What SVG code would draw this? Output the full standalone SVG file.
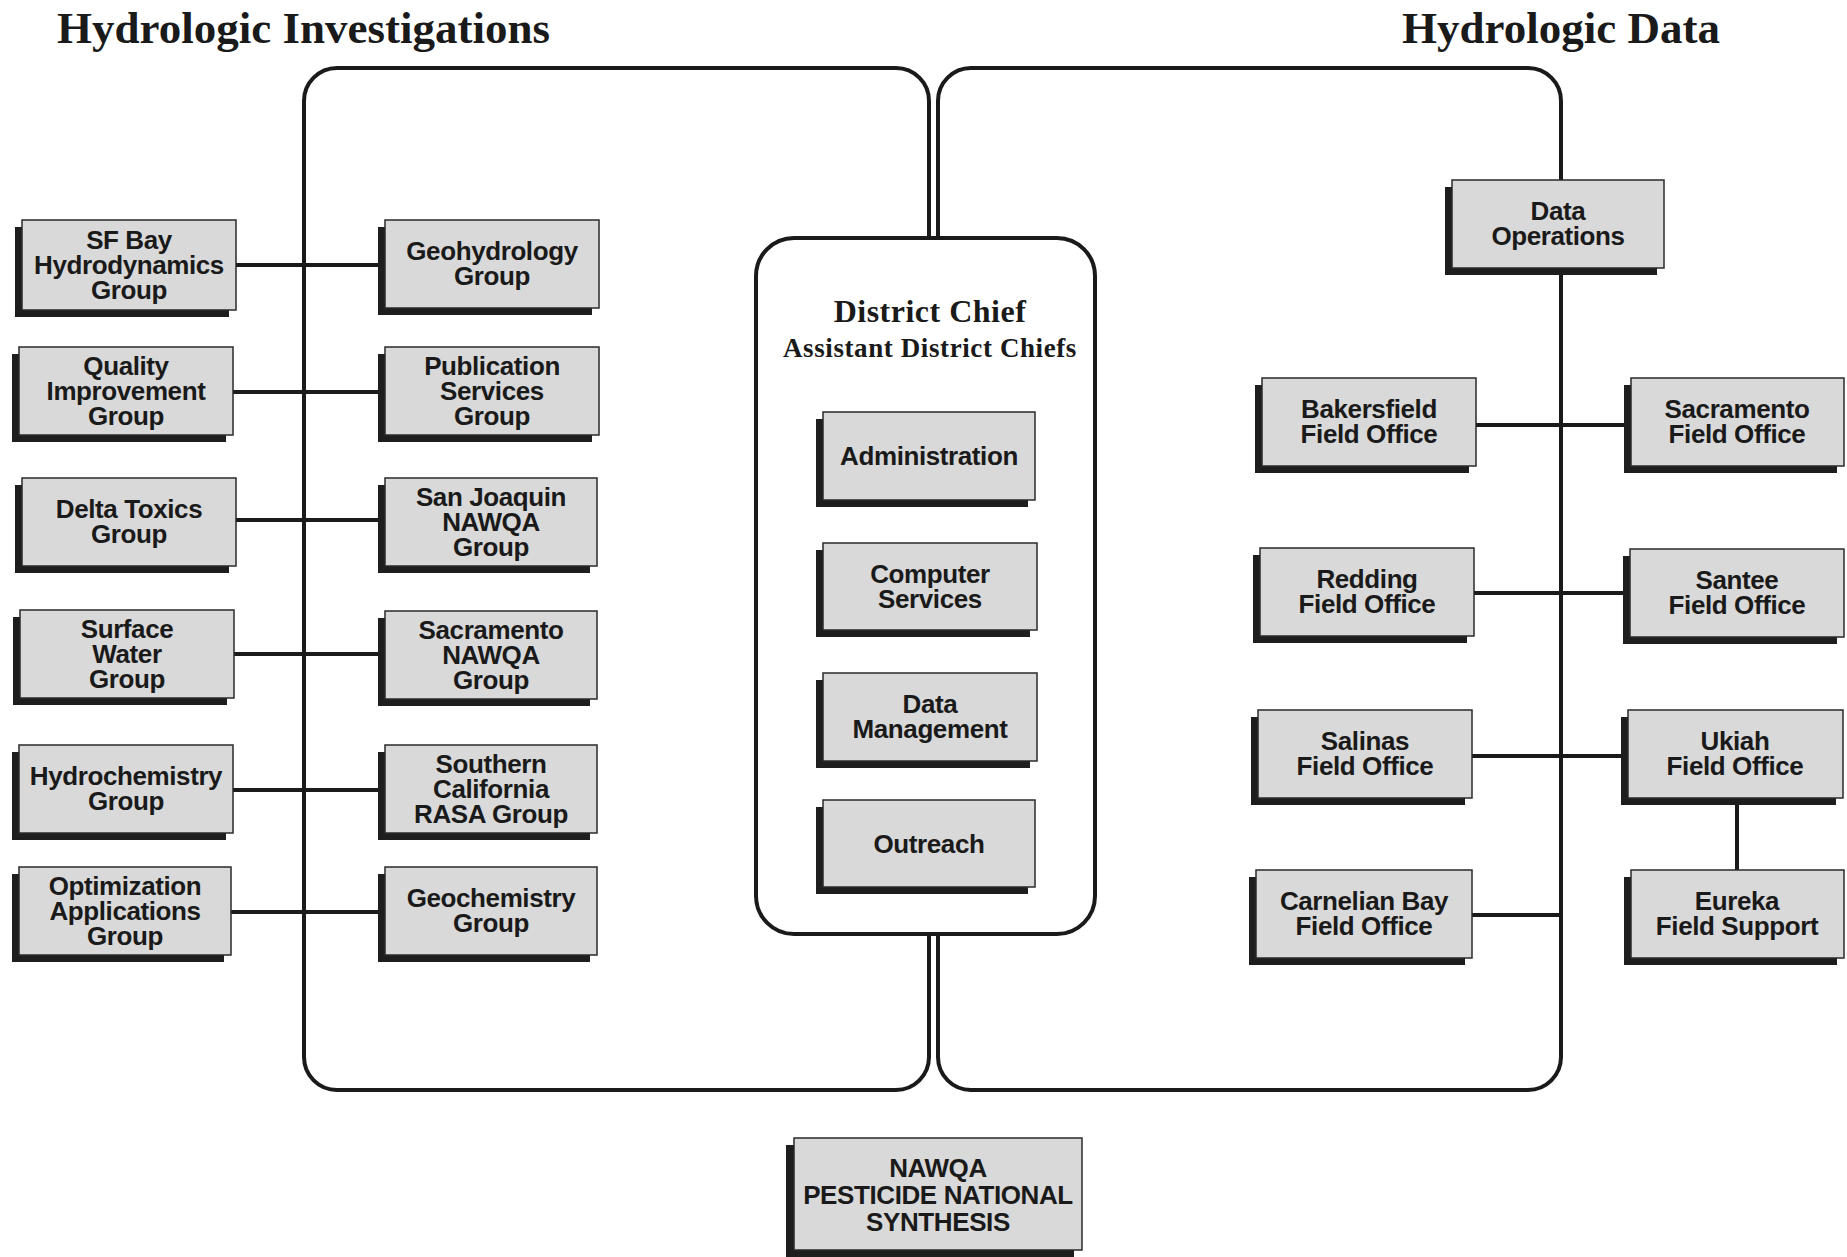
<svg xmlns="http://www.w3.org/2000/svg" width="1847" height="1257" viewBox="0 0 1847 1257">
<style>
.bg{fill:#ffffff}
.shadow{fill:#1e1e1e}
.box{fill:#d9d9d9;stroke:#2a2a2a;stroke-width:1.5}
.lbl{font-family:"Liberation Sans",Arial,sans-serif;font-weight:bold;font-size:26px;fill:#1a1a1a;text-anchor:middle;letter-spacing:-0.4px}
.conn{stroke:#1a1a1a;stroke-width:4;fill:none;stroke-linecap:butt}
.cont{stroke:#1a1a1a;stroke-width:4;fill:none}
.title{font-family:"Liberation Serif","Times New Roman",serif;font-weight:bold;font-size:45px;fill:#1a1a1a}
.chief{font-family:"Liberation Serif","Times New Roman",serif;font-weight:bold;fill:#1a1a1a;text-anchor:middle}
</style>
<rect class="bg" x="0" y="0" width="1847" height="1257"/>

<text class="title" x="57" y="43">Hydrologic Investigations</text>
<text class="title" x="1402" y="43">Hydrologic Data</text>

<g id="containers">
  <rect class="cont" x="304" y="68" width="625" height="1022" rx="33" ry="33"/>
  <rect class="cont" x="938" y="68" width="623" height="1022" rx="33" ry="33"/>
</g>

<g id="connectors">
  <line class="conn" x1="236" y1="265" x2="385" y2="265"/>
  <line class="conn" x1="233" y1="392" x2="385" y2="392"/>
  <line class="conn" x1="236" y1="520" x2="385" y2="520"/>
  <line class="conn" x1="234" y1="654" x2="385" y2="654"/>
  <line class="conn" x1="233" y1="790" x2="385" y2="790"/>
  <line class="conn" x1="231" y1="912" x2="385" y2="912"/>
  <line class="conn" x1="1476" y1="425" x2="1631" y2="425"/>
  <line class="conn" x1="1474" y1="593" x2="1630" y2="593"/>
  <line class="conn" x1="1472" y1="756" x2="1628" y2="756"/>
  <line class="conn" x1="1472" y1="915" x2="1561" y2="915"/>
  <line class="conn" x1="1737" y1="798" x2="1737" y2="870"/>
</g>

<g id="district-chief">
  <rect x="756" y="238" width="339" height="696" rx="38" ry="38" fill="#ffffff" stroke="#1a1a1a" stroke-width="4"/>
  <text class="chief" x="930" y="322" font-size="32" letter-spacing="0.5">District Chief</text>
  <text class="chief" x="930" y="357" font-size="27" letter-spacing="0.6">Assistant District Chiefs</text>
</g>

<g id="sf-bay">
  <rect class="shadow" x="15" y="227" width="214" height="90"/>
  <rect class="box" x="22" y="220" width="214" height="90"/>
  <text class="lbl" x="129" y="249">SF Bay</text>
  <text class="lbl" x="129" y="274">Hydrodynamics</text>
  <text class="lbl" x="129" y="299">Group</text>
</g>
<g id="quality">
  <rect class="shadow" x="12" y="354" width="214" height="88"/>
  <rect class="box" x="19" y="347" width="214" height="88"/>
  <text class="lbl" x="126" y="375">Quality</text>
  <text class="lbl" x="126" y="400">Improvement</text>
  <text class="lbl" x="126" y="425">Group</text>
</g>
<g id="delta-toxics">
  <rect class="shadow" x="15" y="485" width="214" height="88"/>
  <rect class="box" x="22" y="478" width="214" height="88"/>
  <text class="lbl" x="129" y="518">Delta Toxics</text>
  <text class="lbl" x="129" y="543">Group</text>
</g>
<g id="surface-water">
  <rect class="shadow" x="13" y="617" width="214" height="88"/>
  <rect class="box" x="20" y="610" width="214" height="88"/>
  <text class="lbl" x="127" y="638">Surface</text>
  <text class="lbl" x="127" y="663">Water</text>
  <text class="lbl" x="127" y="688">Group</text>
</g>
<g id="hydrochemistry">
  <rect class="shadow" x="12" y="752" width="214" height="88"/>
  <rect class="box" x="19" y="745" width="214" height="88"/>
  <text class="lbl" x="126" y="785">Hydrochemistry</text>
  <text class="lbl" x="126" y="810">Group</text>
</g>
<g id="optimization">
  <rect class="shadow" x="12" y="874" width="212" height="88"/>
  <rect class="box" x="19" y="867" width="212" height="88"/>
  <text class="lbl" x="125" y="895">Optimization</text>
  <text class="lbl" x="125" y="920">Applications</text>
  <text class="lbl" x="125" y="945">Group</text>
</g>

<g id="geohydrology">
  <rect class="shadow" x="378" y="227" width="214" height="88"/>
  <rect class="box" x="385" y="220" width="214" height="88"/>
  <text class="lbl" x="492" y="260">Geohydrology</text>
  <text class="lbl" x="492" y="285">Group</text>
</g>
<g id="publication">
  <rect class="shadow" x="378" y="354" width="214" height="88"/>
  <rect class="box" x="385" y="347" width="214" height="88"/>
  <text class="lbl" x="492" y="375">Publication</text>
  <text class="lbl" x="492" y="400">Services</text>
  <text class="lbl" x="492" y="425">Group</text>
</g>
<g id="san-joaquin">
  <rect class="shadow" x="378" y="485" width="212" height="88"/>
  <rect class="box" x="385" y="478" width="212" height="88"/>
  <text class="lbl" x="491" y="506">San Joaquin</text>
  <text class="lbl" x="491" y="531">NAWQA</text>
  <text class="lbl" x="491" y="556">Group</text>
</g>
<g id="sacramento-nawqa">
  <rect class="shadow" x="378" y="618" width="212" height="88"/>
  <rect class="box" x="385" y="611" width="212" height="88"/>
  <text class="lbl" x="491" y="639">Sacramento</text>
  <text class="lbl" x="491" y="664">NAWQA</text>
  <text class="lbl" x="491" y="689">Group</text>
</g>
<g id="southern-california">
  <rect class="shadow" x="378" y="752" width="212" height="88"/>
  <rect class="box" x="385" y="745" width="212" height="88"/>
  <text class="lbl" x="491" y="773">Southern</text>
  <text class="lbl" x="491" y="798">California</text>
  <text class="lbl" x="491" y="823">RASA Group</text>
</g>
<g id="geochemistry">
  <rect class="shadow" x="378" y="874" width="212" height="88"/>
  <rect class="box" x="385" y="867" width="212" height="88"/>
  <text class="lbl" x="491" y="907">Geochemistry</text>
  <text class="lbl" x="491" y="932">Group</text>
</g>

<g id="administration">
  <rect class="shadow" x="816" y="419" width="212" height="88"/>
  <rect class="box" x="823" y="412" width="212" height="88"/>
  <text class="lbl" x="929" y="465">Administration</text>
</g>
<g id="computer-services">
  <rect class="shadow" x="816" y="550" width="214" height="87"/>
  <rect class="box" x="823" y="543" width="214" height="87"/>
  <text class="lbl" x="930" y="583">Computer</text>
  <text class="lbl" x="930" y="608">Services</text>
</g>
<g id="data-management">
  <rect class="shadow" x="816" y="680" width="214" height="88"/>
  <rect class="box" x="823" y="673" width="214" height="88"/>
  <text class="lbl" x="930" y="713">Data</text>
  <text class="lbl" x="930" y="738">Management</text>
</g>
<g id="outreach">
  <rect class="shadow" x="816" y="807" width="212" height="87"/>
  <rect class="box" x="823" y="800" width="212" height="87"/>
  <text class="lbl" x="929" y="853">Outreach</text>
</g>

<g id="data-operations">
  <rect class="shadow" x="1445" y="187" width="212" height="88"/>
  <rect class="box" x="1452" y="180" width="212" height="88"/>
  <text class="lbl" x="1558" y="220">Data</text>
  <text class="lbl" x="1558" y="245">Operations</text>
</g>
<g id="bakersfield">
  <rect class="shadow" x="1255" y="385" width="214" height="88"/>
  <rect class="box" x="1262" y="378" width="214" height="88"/>
  <text class="lbl" x="1369" y="418">Bakersfield</text>
  <text class="lbl" x="1369" y="443">Field Office</text>
</g>
<g id="sacramento-field">
  <rect class="shadow" x="1624" y="385" width="213" height="88"/>
  <rect class="box" x="1631" y="378" width="213" height="88"/>
  <text class="lbl" x="1737" y="418">Sacramento</text>
  <text class="lbl" x="1737" y="443">Field Office</text>
</g>
<g id="redding">
  <rect class="shadow" x="1253" y="555" width="214" height="88"/>
  <rect class="box" x="1260" y="548" width="214" height="88"/>
  <text class="lbl" x="1367" y="588">Redding</text>
  <text class="lbl" x="1367" y="613">Field Office</text>
</g>
<g id="santee">
  <rect class="shadow" x="1623" y="556" width="214" height="88"/>
  <rect class="box" x="1630" y="549" width="214" height="88"/>
  <text class="lbl" x="1737" y="589">Santee</text>
  <text class="lbl" x="1737" y="614">Field Office</text>
</g>
<g id="salinas">
  <rect class="shadow" x="1251" y="717" width="214" height="88"/>
  <rect class="box" x="1258" y="710" width="214" height="88"/>
  <text class="lbl" x="1365" y="750">Salinas</text>
  <text class="lbl" x="1365" y="775">Field Office</text>
</g>
<g id="ukiah">
  <rect class="shadow" x="1621" y="717" width="215" height="88"/>
  <rect class="box" x="1628" y="710" width="215" height="88"/>
  <text class="lbl" x="1735" y="750">Ukiah</text>
  <text class="lbl" x="1735" y="775">Field Office</text>
</g>
<g id="carnelian-bay">
  <rect class="shadow" x="1249" y="877" width="216" height="88"/>
  <rect class="box" x="1256" y="870" width="216" height="88"/>
  <text class="lbl" x="1364" y="910">Carnelian Bay</text>
  <text class="lbl" x="1364" y="935">Field Office</text>
</g>
<g id="eureka">
  <rect class="shadow" x="1624" y="877" width="213" height="88"/>
  <rect class="box" x="1631" y="870" width="213" height="88"/>
  <text class="lbl" x="1737" y="910">Eureka</text>
  <text class="lbl" x="1737" y="935">Field Support</text>
</g>

<g id="nawqa-pesticide">
  <rect class="shadow" x="786" y="1145" width="288" height="112"/>
  <rect class="box" x="794" y="1138" width="288" height="112"/>
  <text class="lbl" x="938" y="1177" font-size="24" letter-spacing="-0.6">NAWQA</text>
  <text class="lbl" x="938" y="1204" font-size="24" letter-spacing="-0.6">PESTICIDE NATIONAL</text>
  <text class="lbl" x="938" y="1231" font-size="24" letter-spacing="-0.6">SYNTHESIS</text>
</g>
</svg>
